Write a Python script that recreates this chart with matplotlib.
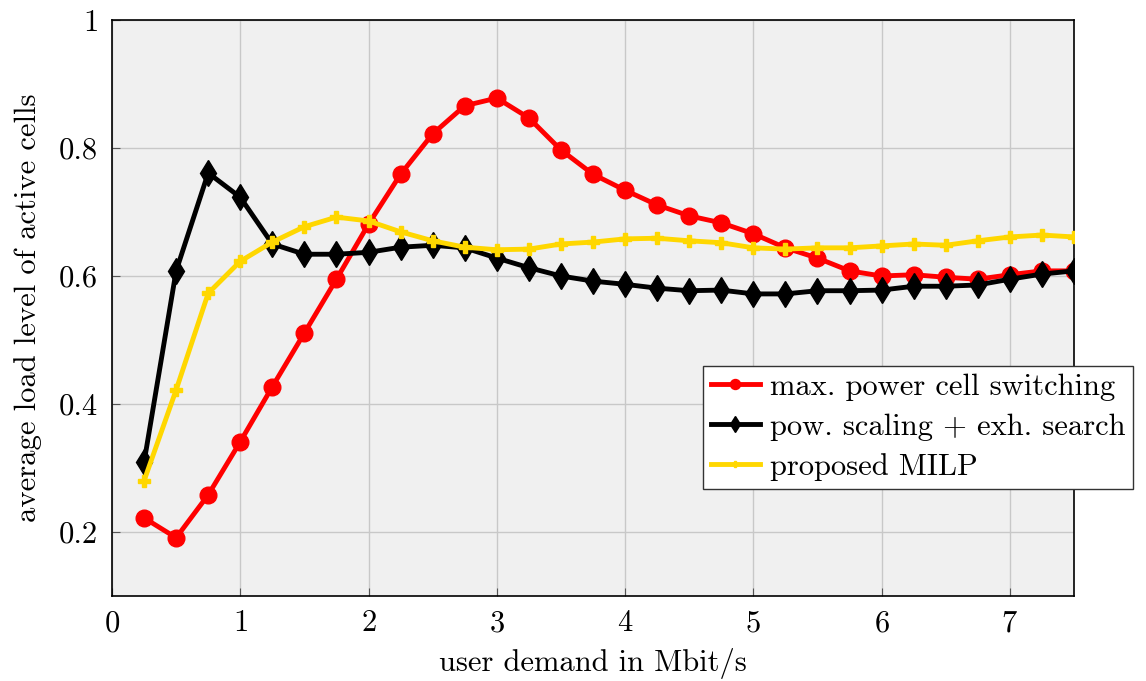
import numpy as np
import matplotlib.pyplot as plt

plt.rcParams['font.family'] = ['cmr10', 'DejaVu Serif']
plt.rcParams['mathtext.fontset'] = 'cm'
plt.rcParams['axes.formatter.use_mathtext'] = True

demand = np.arange(1, 31) * 0.25  # Mbit/s

max_power = [0.222, 0.191, 0.258, 0.341, 0.427, 0.511, 0.595, 0.681, 0.759, 0.822,
             0.866, 0.878, 0.847, 0.797, 0.759, 0.734, 0.711, 0.694, 0.683, 0.666,
             0.644, 0.628, 0.608, 0.600, 0.602, 0.598, 0.595, 0.602, 0.608, 0.608]
pow_scaling = [0.309, 0.608, 0.761, 0.723, 0.650, 0.634, 0.634, 0.637, 0.645, 0.648,
               0.644, 0.628, 0.613, 0.600, 0.592, 0.587, 0.581, 0.577, 0.578, 0.572,
               0.572, 0.577, 0.577, 0.578, 0.584, 0.584, 0.586, 0.595, 0.603, 0.608]
milp = [0.280, 0.422, 0.573, 0.623, 0.653, 0.677, 0.692, 0.686, 0.669, 0.655,
        0.645, 0.641, 0.642, 0.650, 0.653, 0.658, 0.659, 0.655, 0.652, 0.644,
        0.642, 0.644, 0.644, 0.647, 0.650, 0.648, 0.655, 0.661, 0.664, 0.661]

fig = plt.figure(figsize=(11.46, 6.81), dpi=100)
ax = fig.add_axes([112/1146, 1 - 596/681, (1074-112)/1146, (596-20)/681])
ax.set_facecolor('#f0f0f0')

ax.plot(demand, max_power, color='#ff0000', lw=3.5, marker='o', ms=12,
        label='max. power cell switching', zorder=3)
ax.plot(demand, pow_scaling, color='black', lw=3.5, marker='d', ms=13,
        label='pow. scaling + exh. search', zorder=4)
ax.plot(demand, milp, color='#ffd700', lw=3.5, marker='P', ms=8,
        label='proposed MILP', zorder=5)

ax.set_xlim(0, 7.5)
ax.set_ylim(0.1, 1)
ax.set_xticks(range(0, 8))
ax.set_yticks([0.2, 0.4, 0.6, 0.8, 1])
ax.set_yticklabels(['0.2', '0.4', '0.6', '0.8', '1'])
ax.grid(True, color='#c8c8c8', lw=1)
ax.set_axisbelow(True)
ax.tick_params(direction='in', length=6, labelsize=22, color='#555555', pad=10)
for s in ax.spines.values():
    s.set_linewidth(1.2)

ax.set_xlabel('user demand in Mbit/s', fontsize=22, labelpad=8)
ax.set_ylabel('average load level of active cells', fontsize=22, labelpad=12)

leg = ax.legend(loc='upper left', bbox_to_anchor=(703/1146, 1 - 366/681),
                bbox_transform=fig.transFigure, fontsize=22, fancybox=False,
                framealpha=1, edgecolor='#333333', borderpad=0.25,
                handlelength=1.6, handletextpad=0.35, labelspacing=0.4,
                borderaxespad=0, markerscale=0.6)
leg.get_frame().set_linewidth(1)

fig.savefig('out.png', dpi=100)
